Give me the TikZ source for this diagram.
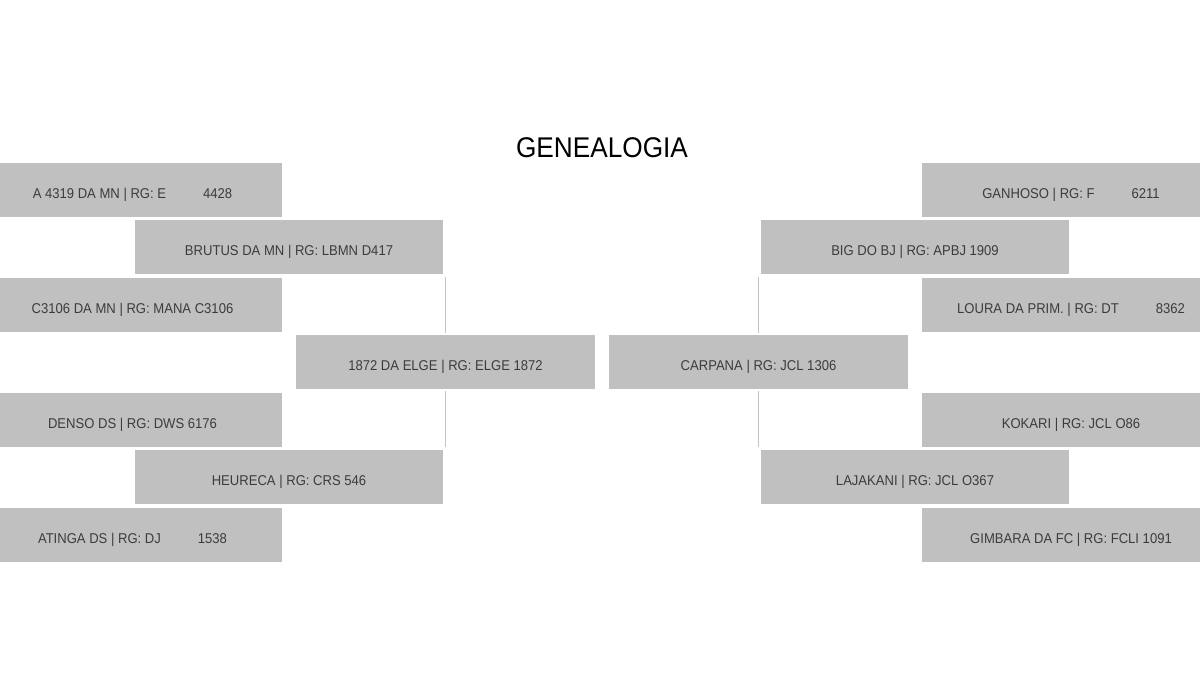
\documentclass[tikz,border=0pt]{standalone}
\usepackage{fontspec}
\setmainfont{Liberation Sans}[FakeStretch=0.92]
\definecolor{boxgray}{HTML}{C0C0C0}
\definecolor{txtgray}{HTML}{3C3C3C}
\definecolor{linegray}{HTML}{C4C4C4}
\tikzset{
  horse/.style={fill=boxgray, draw=none, inner sep=0pt, minimum height=54pt,
    text height=17.2pt, text depth=0pt,
    text=txtgray, font=\fontsize{14.2pt}{16pt}\selectfont},
  narrowbox/.style={horse, minimum width=299pt},
  widebox/.style={horse, minimum width=308pt},
  link/.style={draw=linegray, line width=1pt}
}
\newcommand{\tabgap}{\hspace{37pt}}
\begin{document}
\begin{tikzpicture}[x=1pt,y=-1pt]
\useasboundingbox (0,0) rectangle (1200,700);
\fill[white] (0,0) rectangle (1200,700);
\node[font=\fontsize{28.5pt}{32pt}\selectfont, text=black] (title) at (602,148) {GENEALOGIA};
% left side
\node[narrowbox] (l1) at (132.5,189.7) {A 4319 DA MN | RG: E\tabgap 4428};
\node[widebox]   (l2) at (289,247.2) {BRUTUS DA MN | RG: LBMN D417};
\node[narrowbox] (l3) at (132.5,304.7) {C3106 DA MN | RG: MANA C3106};
\node[narrowbox] (lc) at (445.5,362.2) {1872 DA ELGE | RG: ELGE 1872};
\node[narrowbox] (l5) at (132.5,419.7) {DENSO DS | RG: DWS 6176};
\node[widebox]   (l6) at (289,477.2) {HEURECA | RG: CRS 546};
\node[narrowbox] (l7) at (132.5,534.7) {ATINGA DS | RG: DJ\tabgap 1538};
% right side
\node[narrowbox] (r1) at (1071,189.7) {GANHOSO | RG: F\tabgap 6211};
\node[widebox]   (r2) at (915,247.2) {BIG DO BJ | RG: APBJ 1909};
\node[narrowbox] (r3) at (1071,304.7) {LOURA DA PRIM. | RG: DT\tabgap 8362};
\node[narrowbox] (rc) at (758.5,362.2) {CARPANA | RG: JCL 1306};
\node[narrowbox] (r5) at (1071,419.7) {KOKARI | RG: JCL O86};
\node[widebox]   (r6) at (915,477.2) {LAJAKANI | RG: JCL O367};
\node[narrowbox] (r7) at (1071,534.7) {GIMBARA DA FC | RG: FCLI 1091};
% connectors
\draw[link] ([yshift=1.5pt]lc.north) -- ([yshift=-3pt]lc.north |- l2.south);
\draw[link] ([yshift=-1.5pt]lc.south) -- ([yshift=3pt]lc.south |- l6.north);
\draw[link] ([yshift=1.5pt]rc.north) -- ([yshift=-3pt]rc.north |- r2.south);
\draw[link] ([yshift=-1.5pt]rc.south) -- ([yshift=3pt]rc.south |- r6.north);
\end{tikzpicture}
\end{document}
